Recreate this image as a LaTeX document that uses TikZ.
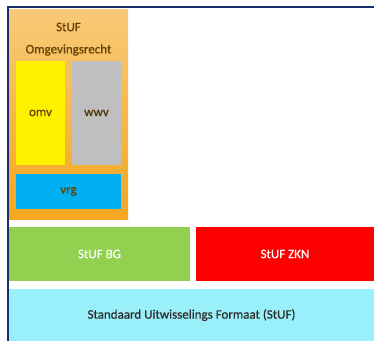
\documentclass[tikz,border=0pt]{standalone}
\usepackage{fontspec}
\setmainfont{Carlito}
\newfontfamily\semib{Carlito}[RawFeature={embolden=0.7}]
\definecolor{navy}{RGB}{25,45,110}
\definecolor{orlight}{RGB}{248,202,120}
\definecolor{ordark}{RGB}{245,166,30}
\definecolor{brown}{RGB}{100,65,5}
\definecolor{ygreen}{RGB}{146,208,80}
\definecolor{skyb}{RGB}{0,176,240}
\definecolor{lcyan}{RGB}{154,240,250}
\definecolor{lgray}{RGB}{191,191,191}
\definecolor{dgtext}{RGB}{45,45,45}
\tikzset{
  blk/.style={rectangle, inner sep=0pt, outer sep=0pt, font=\fontsize{13}{15}\semib},
}
\begin{document}
\begin{tikzpicture}[x=1pt,y=-1pt]
\useasboundingbox (0,0) rectangle (374,341);
\fill[white] (0,0) rectangle (374,341);
\node[blk, minimum width=119pt, minimum height=210pt, top color=orlight, middle color=ordark, bottom color=ordark] (org) at (68.5,114) {};
\node[blk, text=brown] (stuf) at (68.5,27) {StUF};
\node[blk, text=brown] (omg) at (68.5,50) {Omgevingsrecht};
\node[blk, fill=yellow, text=brown, minimum width=49pt, minimum height=104pt] (omv) at (40.5,113) {omv};
\node[blk, fill=lgray, text=brown!80!black, minimum width=49pt, minimum height=104pt] (wwv) at (96.5,113) {wwv};
\node[blk, fill=skyb, text=brown, minimum width=105pt, minimum height=35pt] (vrg) at (68.5,191.5) {vrg};
\node[blk, fill=ygreen, text=white, minimum width=181pt, minimum height=54pt] (bg) at (99.5,254) {StUF BG};
\node[blk, fill=red, text=white, minimum width=178pt, minimum height=54pt] (zkn) at (285,254) {StUF ZKN};
\node[blk, fill=lcyan, text=dgtext, minimum width=365pt, minimum height=52pt] (std) at (191.5,315) {Standaard Uitwisselings Formaat (StUF)};
\draw[navy, line width=2pt] (7.5,341) -- (7.5,6.5) -- (374,6.5);
\end{tikzpicture}
\end{document}
